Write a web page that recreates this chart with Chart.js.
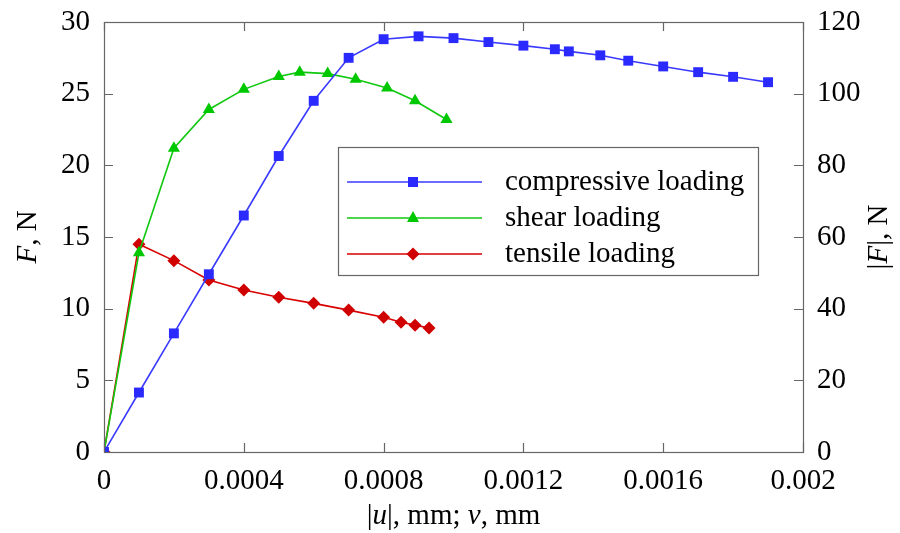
<!DOCTYPE html>
<html>
<head>
<meta charset="utf-8">
<script src="https://cdn.jsdelivr.net/npm/chart.js@4"></script>
<style>
  html, body { margin: 0; padding: 0; background: #ffffff; }
  #wrap { width: 900px; height: 533px; }
</style>
</head>
<body>
<div id="wrap"><canvas id="chart" width="900" height="533"></canvas></div>
<script>
// displacement |u| or v, mm
const compX = [0, 0.0001, 0.0002, 0.0003, 0.0004, 0.0005, 0.0006, 0.0007, 0.0008, 0.0009, 0.001,
  0.0011, 0.0012, 0.00129, 0.00133, 0.00142, 0.0015, 0.0016, 0.0017, 0.0018, 0.0019];
// |F|, N (right axis)
const compF = [0, 16.6, 33.1, 49.6, 66, 82.6, 98, 110, 115.2, 116, 115.5,
  114.4, 113.4, 112.4, 111.8, 110.7, 109.2, 107.6, 106, 104.7, 103.2];

const shearX = [0, 0.0001, 0.0002, 0.0003, 0.0004, 0.0005, 0.00056, 0.00064, 0.00072, 0.00081, 0.00089, 0.00098];
const shearF = [0, 13.9, 21.2, 23.9, 25.3, 26.2, 26.5, 26.4, 26.0, 25.4, 24.5, 23.2];

const tensX = [0, 0.0001, 0.0002, 0.0003, 0.0004, 0.0005, 0.0006, 0.0007, 0.0008, 0.00085, 0.00089, 0.00093];
const tensF = [0, 14.5, 13.35, 12.0, 11.3, 10.8, 10.37, 9.9, 9.4, 9.05, 8.85, 8.65];

const xTicks = [0, 0.0004, 0.0008, 0.0012, 0.0016, 0.002];
const xTickLabels = ["0", "0.0004", "0.0008", "0.0012", "0.0016", "0.002"];

const seriesNames = ["compressive loading", "shear loading", "tensile loading"];

const FONT = "Liberation Serif, Times New Roman, serif";
const FSIZE = 29;
const FRAME = "#666666";

function pts(xs, ys) {
  return xs.map((x, i) => ({ x, y: ys[i] }));
}

function noPad(axis) {
  axis.paddingTop = 0;
  axis.paddingBottom = 0;
  axis.paddingLeft = 0;
  axis.paddingRight = 0;
}

// inward ticks, frame, axis titles and the boxed legend
const decorPlugin = {
  id: "decor",
  afterDraw(chart) {
    const { ctx, chartArea: a, scales } = chart;
    const x = scales.x, y = scales.y, y2 = scales.y2;
    ctx.save();
    ctx.strokeStyle = FRAME;
    ctx.lineWidth = 1.2;
    ctx.beginPath();
    xTicks.forEach((v) => {
      const px = Math.round(x.getPixelForValue(v)) + 0.5;
      ctx.moveTo(px, a.bottom); ctx.lineTo(px, a.bottom - 9);
      ctx.moveTo(px, a.top); ctx.lineTo(px, a.top + 9);
    });
    for (let v = 0; v <= 30; v += 5) {
      const py = Math.round(y.getPixelForValue(v)) + 0.5;
      ctx.moveTo(a.left, py); ctx.lineTo(a.left + 9, py);
    }
    for (let v = 0; v <= 120; v += 20) {
      const py = Math.round(y2.getPixelForValue(v)) + 0.5;
      ctx.moveTo(a.right, py); ctx.lineTo(a.right - 9, py);
    }
    ctx.stroke();
    ctx.strokeRect(a.left + 0.5, a.top + 0.5, a.right - a.left, a.bottom - a.top);

    // axis titles with italic symbols
    ctx.fillStyle = "#000000";
    ctx.textBaseline = "middle";
    const drawMixed = (parts, cx, cy, rot) => {
      ctx.save();
      ctx.translate(cx, cy);
      ctx.rotate(rot);
      let total = 0;
      parts.forEach((p) => {
        ctx.font = (p[1] ? "italic " : "") + FSIZE + "px " + FONT;
        total += ctx.measureText(p[0]).width;
      });
      let pos = -total / 2;
      ctx.textAlign = "left";
      parts.forEach((p) => {
        ctx.font = (p[1] ? "italic " : "") + FSIZE + "px " + FONT;
        ctx.fillText(p[0], pos, 0);
        pos += ctx.measureText(p[0]).width;
      });
      ctx.restore();
    };
    drawMixed([["F", true], [", N", false]], 28, 237, -Math.PI / 2);
    drawMixed([["|", false], ["F", true], ["|, N", false]], 879, 237, -Math.PI / 2);
    drawMixed([["|", false], ["u", true], ["|, mm; ", false], ["v", true], [", mm", false]],
      (a.left + a.right) / 2, 516, 0);

    // legend box
    const bx = 338.5, by = 147.5, bw = 420, bh = 128;
    ctx.strokeStyle = FRAME;
    ctx.lineWidth = 1.2;
    ctx.strokeRect(bx, by, bw, bh);
    const rows = [182, 218, 254];
    chart.data.datasets.forEach((ds, i) => {
      const ly = rows[i];
      ctx.strokeStyle = ds.borderColor;
      ctx.lineWidth = 1.5;
      ctx.beginPath();
      ctx.moveTo(347, ly); ctx.lineTo(482, ly);
      ctx.stroke();
      ctx.fillStyle = ds.backgroundColor;
      const mx = 413;
      ctx.beginPath();
      if (ds.pointStyle === "rect") {
        ctx.rect(mx - 5, ly - 5, 10, 10);
      } else if (ds.pointStyle === "triangle") {
        ctx.moveTo(mx, ly - 7); ctx.lineTo(mx + 6, ly + 4); ctx.lineTo(mx - 6, ly + 4);
      } else {
        ctx.moveTo(mx, ly - 6.5); ctx.lineTo(mx + 6.5, ly); ctx.lineTo(mx, ly + 6.5); ctx.lineTo(mx - 6.5, ly);
      }
      ctx.closePath();
      ctx.fill();
      ctx.fillStyle = "#000000";
      ctx.font = FSIZE + "px " + FONT;
      ctx.textAlign = "left";
      ctx.fillText(seriesNames[i], 505, ly);
    });
    ctx.restore();
  },
};

const ctx = document.getElementById("chart").getContext("2d");
new Chart(ctx, {
  type: "line",
  data: {
    datasets: [
      {
        label: seriesNames[0],
        data: pts(compX, compF),
        yAxisID: "y2",
        borderColor: "#3a3aff",
        backgroundColor: "#2a2aff",
        pointStyle: "rect",
        pointRadius: 7,
        borderWidth: 1.6,
        pointBorderWidth: 0,
      },
      {
        label: seriesNames[1],
        data: pts(shearX, shearF),
        yAxisID: "y",
        borderColor: "#10c810",
        backgroundColor: "#00c800",
        pointStyle: "triangle",
        pointRadius: 7,
        borderWidth: 1.6,
        pointBorderWidth: 0,
      },
      {
        label: seriesNames[2],
        data: pts(tensX, tensF),
        yAxisID: "y",
        borderColor: "#d80000",
        backgroundColor: "#d00000",
        pointStyle: "rectRot",
        pointRadius: 6.5,
        borderWidth: 1.6,
        pointBorderWidth: 0,
      },
    ],
  },
  options: {
    responsive: false,
    animation: false,
    layout: { padding: { top: 22, left: 0, right: 0, bottom: 0 } },
    plugins: {
      legend: { display: false },
      tooltip: { enabled: false },
    },
    scales: {
      x: {
        type: "linear",
        min: 0,
        max: 0.002,
        afterBuildTicks: (axis) => { axis.ticks = xTicks.map((v) => ({ value: v })); },
        afterFit: (axis) => { axis.height = 81; noPad(axis); },
        grid: { display: false, drawTicks: false },
        border: { display: false },
        ticks: {
          padding: 12,
          color: "#000000",
          font: { family: FONT, size: FSIZE },
          maxRotation: 0,
          autoSkip: false,
          callback: (v) => xTickLabels[xTicks.indexOf(v)] ?? "",
        },
      },
      y: {
        position: "left",
        min: 0,
        max: 30,
        afterFit: (axis) => { axis.width = 104; noPad(axis); },
        grid: { display: false, drawTicks: false },
        border: { display: false },
        ticks: { stepSize: 5, padding: 14, color: "#000000", font: { family: FONT, size: FSIZE } },
      },
      y2: {
        position: "right",
        min: 0,
        max: 120,
        afterFit: (axis) => { axis.width = 97; noPad(axis); },
        grid: { display: false, drawTicks: false },
        border: { display: false },
        ticks: { stepSize: 20, padding: 14, color: "#000000", font: { family: FONT, size: FSIZE } },
      },
    },
  },
  plugins: [decorPlugin],
});
</script>
</body>
</html>
